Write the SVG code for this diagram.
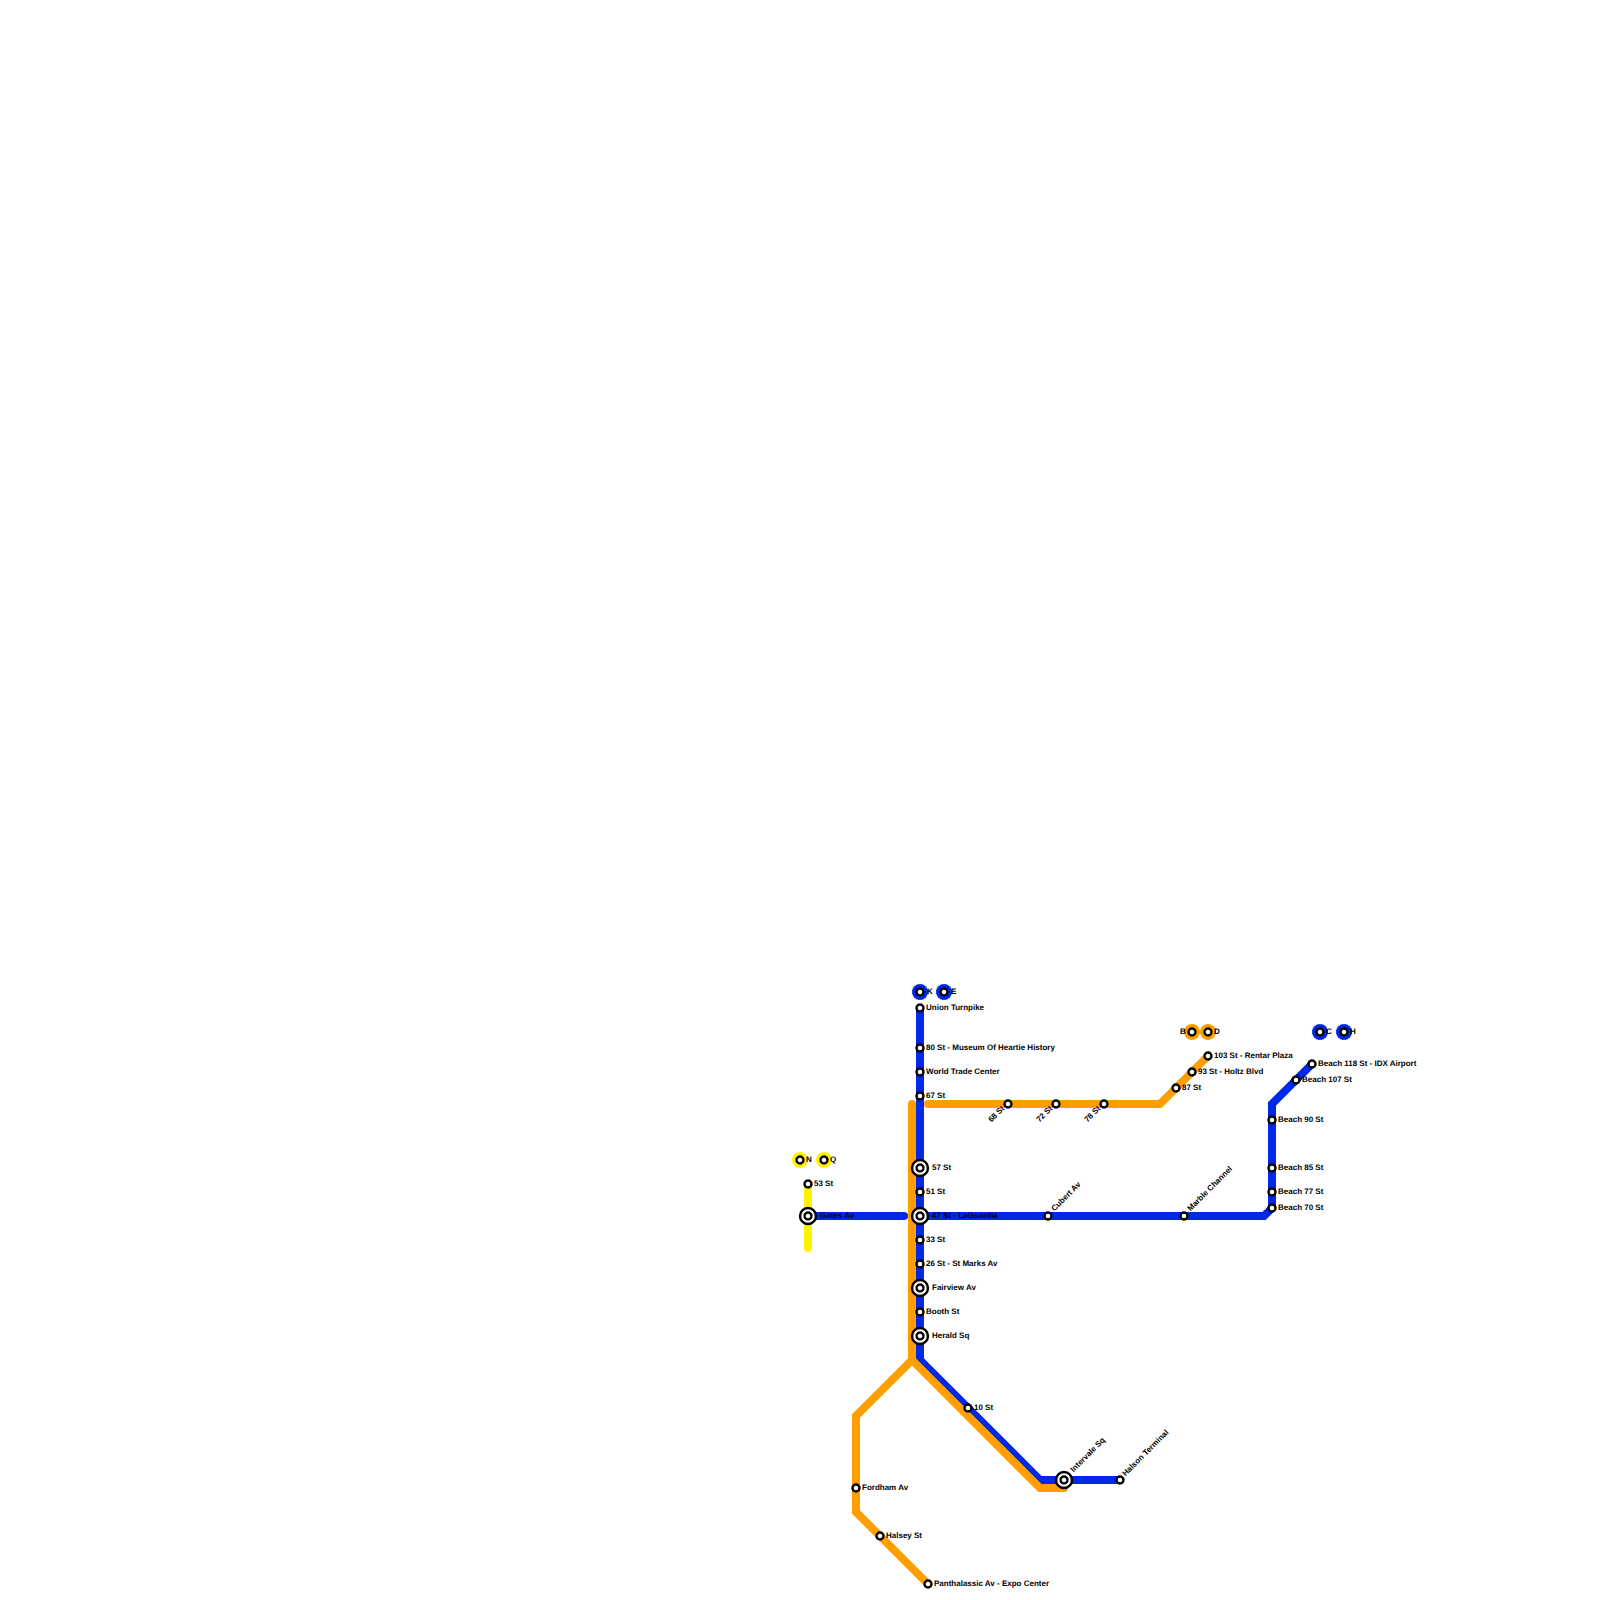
<svg xmlns="http://www.w3.org/2000/svg" width="1600" height="1600" viewBox="0 0 1600 1600">
<style>
.l{fill:none;stroke-width:8;stroke-linecap:round;stroke-linejoin:miter}
.b{stroke:#0029e5}.o{stroke:#ff9e00}.y{stroke:#fff200}
.s{fill:#fff;stroke:#000;stroke-width:2.4}
.t{font-family:"Liberation Sans",Arial,sans-serif;font-size:8px;font-weight:bold;fill:#000;text-rendering:geometricPrecision}
</style>
<rect width="1600" height="1600" fill="#fff"/>
<g id="connectors">
<path class="l y" d="M808 1184V1248"/>
<path class="l b" d="M808 1216H904"/>
<path class="l b" d="M920 1008V1360L1040 1480H1120"/>
<path class="l b" d="M920 1216H1264L1272 1208V1104L1312 1064"/>
<path class="l o" d="M912 1104V1360L856 1416V1512L928 1584"/>
<path class="l o" d="M912 1360L1040 1488H1064"/>
<path class="l o" d="M928 1104H1160L1208 1056"/>
</g>
<g id="term-K"><circle cx="920" cy="992" r="8" fill="#0029e5"/><circle class="s" cx="920" cy="992" r="3.5"/><text class="t" x="927" y="994">K</text></g>
<g id="term-E"><circle cx="944" cy="992" r="8" fill="#0029e5"/><circle class="s" cx="944" cy="992" r="3.5"/><text class="t" x="951" y="994">E</text></g>
<g id="term-N"><circle cx="800" cy="1160" r="8" fill="#fff200"/><circle class="s" cx="800" cy="1160" r="3.5"/><text class="t" x="806" y="1162">N</text></g>
<g id="term-Q"><circle cx="824" cy="1160" r="8" fill="#fff200"/><circle class="s" cx="824" cy="1160" r="3.5"/><text class="t" x="830" y="1162">Q</text></g>
<g id="term-B"><circle cx="1192" cy="1032" r="8" fill="#ff9e00"/><circle class="s" cx="1192" cy="1032" r="3.5"/><text class="t" x="1180" y="1034">B</text></g>
<g id="term-D"><circle cx="1208" cy="1032" r="8" fill="#ff9e00"/><circle class="s" cx="1208" cy="1032" r="3.5"/><text class="t" x="1214" y="1034">D</text></g>
<g id="term-C"><circle cx="1320" cy="1032" r="8" fill="#0029e5"/><circle class="s" cx="1320" cy="1032" r="3.5"/><text class="t" x="1326" y="1034">C</text></g>
<g id="term-H"><circle cx="1344" cy="1032" r="8" fill="#0029e5"/><circle class="s" cx="1344" cy="1032" r="3.5"/><text class="t" x="1350" y="1034">H</text></g>
<g id="st-union"><circle class="s" cx="920" cy="1008" r="3.5"/><text class="t" x="926" y="1010">Union Turnpike</text></g>
<g id="st-80"><circle class="s" cx="920" cy="1048" r="3.5"/><text class="t" x="926" y="1050">80 St - Museum Of Heartie History</text></g>
<g id="st-wtc"><circle class="s" cx="920" cy="1072" r="3.5"/><text class="t" x="926" y="1074">World Trade Center</text></g>
<g id="st-67"><circle class="s" cx="920" cy="1096" r="3.5"/><text class="t" x="926" y="1098">67 St</text></g>
<g id="st-57"><circle class="s" cx="920" cy="1168" r="8"/><circle class="s" cx="920" cy="1168" r="3.5"/><text class="t" x="932" y="1170">57 St</text></g>
<g id="st-51"><circle class="s" cx="920" cy="1192" r="3.5"/><text class="t" x="926" y="1194">51 St</text></g>
<g id="st-47"><circle class="s" cx="920" cy="1216" r="8"/><circle class="s" cx="920" cy="1216" r="3.5"/><text class="t" x="932" y="1218">47 St - LaGuardia</text></g>
<g id="st-33"><circle class="s" cx="920" cy="1240" r="3.5"/><text class="t" x="926" y="1242">33 St</text></g>
<g id="st-26"><circle class="s" cx="920" cy="1264" r="3.5"/><text class="t" x="926" y="1266">26 St - St Marks Av</text></g>
<g id="st-fair"><circle class="s" cx="920" cy="1288" r="8"/><circle class="s" cx="920" cy="1288" r="3.5"/><text class="t" x="932" y="1290">Fairview Av</text></g>
<g id="st-booth"><circle class="s" cx="920" cy="1312" r="3.5"/><text class="t" x="926" y="1314">Booth St</text></g>
<g id="st-herald"><circle class="s" cx="920" cy="1336" r="8"/><circle class="s" cx="920" cy="1336" r="3.5"/><text class="t" x="932" y="1338">Herald Sq</text></g>
<g id="st-10"><circle class="s" cx="968" cy="1408" r="3.5"/><text class="t" x="974" y="1410">10 St</text></g>
<g id="st-interv"><circle class="s" cx="1064" cy="1480" r="8"/><circle class="s" cx="1064" cy="1480" r="3.5"/><text class="t" transform="translate(1073.5 1472.5) rotate(-45)">Intervale Sq</text></g>
<g id="st-halson"><circle class="s" cx="1120" cy="1480" r="3.5"/><text class="t" transform="translate(1125.5 1476.5) rotate(-45)">Halson Terminal</text></g>
<g id="st-fordham"><circle class="s" cx="856" cy="1488" r="3.5"/><text class="t" x="862" y="1490">Fordham Av</text></g>
<g id="st-halsey"><circle class="s" cx="880" cy="1536" r="3.5"/><text class="t" x="886" y="1538">Halsey St</text></g>
<g id="st-panth"><circle class="s" cx="928" cy="1584" r="3.5"/><text class="t" x="934" y="1586">Panthalassic Av - Expo Center</text></g>
<g id="st-53"><circle class="s" cx="808" cy="1184" r="3.5"/><text class="t" x="814" y="1186">53 St</text></g>
<g id="st-gates"><circle class="s" cx="808" cy="1216" r="8"/><circle class="s" cx="808" cy="1216" r="3.5"/><text class="t" x="820" y="1218">Gates Av</text></g>
<g id="st-68"><circle class="s" cx="1008" cy="1104" r="3.5"/><text class="t" text-anchor="end" transform="translate(1005 1109) rotate(-45)">68 St</text></g>
<g id="st-72"><circle class="s" cx="1056" cy="1104" r="3.5"/><text class="t" text-anchor="end" transform="translate(1053 1109) rotate(-45)">72 St</text></g>
<g id="st-78"><circle class="s" cx="1104" cy="1104" r="3.5"/><text class="t" text-anchor="end" transform="translate(1101 1109) rotate(-45)">78 St</text></g>
<g id="st-87"><circle class="s" cx="1176" cy="1088" r="3.5"/><text class="t" x="1182" y="1090">87 St</text></g>
<g id="st-93"><circle class="s" cx="1192" cy="1072" r="3.5"/><text class="t" x="1198" y="1074">93 St - Holtz Blvd</text></g>
<g id="st-103"><circle class="s" cx="1208" cy="1056" r="3.5"/><text class="t" x="1214" y="1058">103 St - Rentar Plaza</text></g>
<g id="st-cubert"><circle class="s" cx="1048" cy="1216" r="3.5"/><text class="t" transform="translate(1054.5 1211.5) rotate(-45)">Cubert Av</text></g>
<g id="st-marble"><circle class="s" cx="1184" cy="1216" r="3.5"/><text class="t" transform="translate(1190.5 1211.5) rotate(-45)">Marble Channel</text></g>
<g id="st-b70"><circle class="s" cx="1272" cy="1208" r="3.5"/><text class="t" x="1278" y="1210">Beach 70 St</text></g>
<g id="st-b77"><circle class="s" cx="1272" cy="1192" r="3.5"/><text class="t" x="1278" y="1194">Beach 77 St</text></g>
<g id="st-b85"><circle class="s" cx="1272" cy="1168" r="3.5"/><text class="t" x="1278" y="1170">Beach 85 St</text></g>
<g id="st-b90"><circle class="s" cx="1272" cy="1120" r="3.5"/><text class="t" x="1278" y="1122">Beach 90 St</text></g>
<g id="st-b107"><circle class="s" cx="1296" cy="1080" r="3.5"/><text class="t" x="1302" y="1082">Beach 107 St</text></g>
<g id="st-b118"><circle class="s" cx="1312" cy="1064" r="3.5"/><text class="t" x="1318" y="1066">Beach 118 St - IDX Airport</text></g>
</svg>
